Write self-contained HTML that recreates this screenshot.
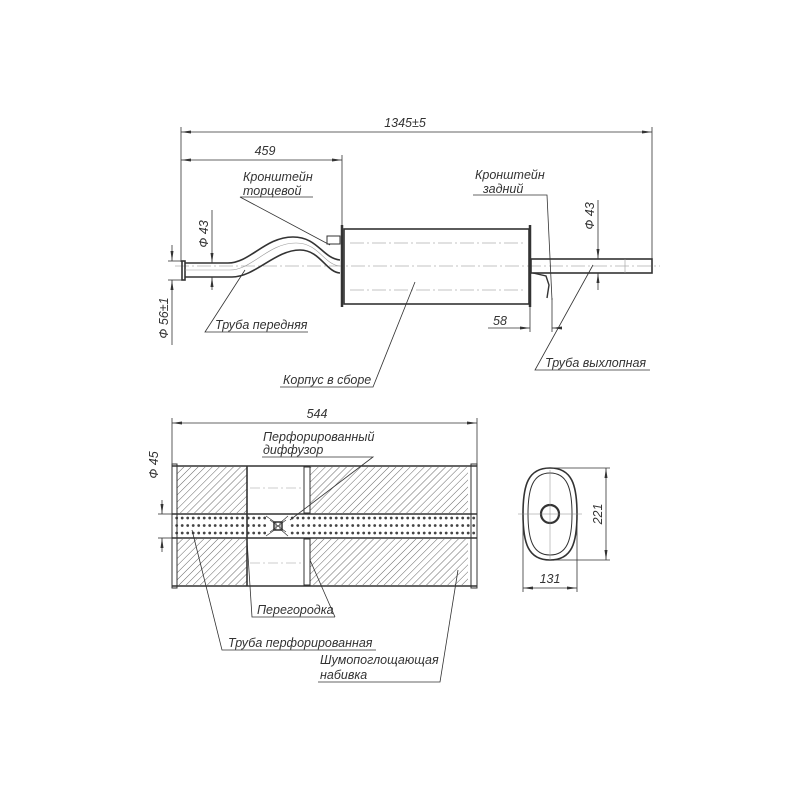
<!DOCTYPE html>
<html><head><meta charset="utf-8"><style>
html,body{margin:0;padding:0;background:#fff}
svg{display:block}
text{font-family:"Liberation Sans",sans-serif;font-style:italic;font-size:12.5px;fill:#333}
</style></head><body>
<svg width="800" height="800" viewBox="0 0 800 800" xmlns="http://www.w3.org/2000/svg">
<defs>
<pattern id="h" width="5" height="5" patternUnits="userSpaceOnUse" patternTransform="rotate(45)">
<line x1="0" y1="0" x2="0" y2="5" stroke="#555" stroke-width="0.9"/></pattern>
<pattern id="d" x="174" y="514" width="5.5" height="7.5" patternUnits="userSpaceOnUse">
<circle cx="2.7" cy="4" r="1.4" fill="#444"/></pattern>
<marker id="a" markerWidth="10" markerHeight="6" refX="10" refY="3" orient="auto-start-reverse" markerUnits="userSpaceOnUse">
<path d="M0,1.5 L10,3 L0,4.5 z" fill="#333"/></marker>
</defs>
<g stroke="#333" fill="none" stroke-width="0.8">
<line x1="181" y1="132" x2="652" y2="132" marker-start="url(#a)" marker-end="url(#a)"/>
<line x1="181" y1="160" x2="342" y2="160" marker-start="url(#a)" marker-end="url(#a)"/>
<line x1="181" y1="127" x2="181" y2="262"/>
<line x1="342" y1="155" x2="342" y2="228"/>
<line x1="652" y1="127" x2="652" y2="259"/>
<line x1="175" y1="266" x2="660" y2="266" stroke="#888" stroke-width="0.6" stroke-dasharray="14,3,2,3"/>
<line x1="350" y1="243" x2="525" y2="243" stroke="#888" stroke-width="0.6" stroke-dasharray="14,3,2,3"/>
<line x1="350" y1="290" x2="525" y2="290" stroke="#888" stroke-width="0.6" stroke-dasharray="14,3,2,3"/>
<g stroke-width="1.6">
<rect x="182" y="261" width="3" height="19"/>
<path d="M185,263 L228,263 C250,263 265,237 293,237 C318,237 322,258 340,260"/>
<path d="M185,277 L232,277 C255,277 275,250 300,250 C320,250 326,272 340,273"/>
<rect x="327" y="236" width="13" height="8" stroke-width="1"/>
<rect x="344" y="229" width="185" height="75"/>
<line x1="342" y1="225" x2="342" y2="307" stroke-width="2.5"/>
<line x1="530" y1="225" x2="530" y2="307" stroke-width="2.5"/>
<rect x="531" y="259" width="121" height="14"/>
<path d="M533,273 L546,276 L549,285 L547,298" stroke-width="1.4"/>
</g>
<path d="M185,270 L230,270 C252,270 268,243 296,243 C319,243 324,265 340,266" stroke="#999" stroke-width="0.6"/>
<line x1="625" y1="259" x2="625" y2="273" stroke="#999" stroke-width="0.6"/>
<line x1="212" y1="210" x2="212" y2="263" marker-end="url(#a)"/>
<line x1="212" y1="290" x2="212" y2="277" marker-end="url(#a)"/>
<line x1="172" y1="245" x2="172" y2="261" marker-end="url(#a)"/>
<line x1="172" y1="345" x2="172" y2="280" marker-end="url(#a)"/>
<line x1="168" y1="261" x2="182" y2="261"/><line x1="168" y1="280" x2="182" y2="280"/>
<line x1="598" y1="200" x2="598" y2="259" marker-end="url(#a)"/>
<line x1="598" y1="290" x2="598" y2="273" marker-end="url(#a)"/>
<line x1="488" y1="328" x2="530" y2="328" marker-end="url(#a)"/>
<line x1="560" y1="328" x2="552" y2="328" marker-end="url(#a)"/>
<line x1="530" y1="305" x2="530" y2="332"/>
<line x1="552" y1="298" x2="552" y2="332"/>
<path d="M313,197 L240,197 L330,245"/>
<path d="M546,195 L473,195 L547,195 L552,300"/>
<path d="M308,332 L205,332 L245,270"/>
<path d="M373,387 L280,387 L373,387 L415,282"/>
<path d="M650,370 L535,370 L593,265"/>
<line x1="172" y1="423" x2="477" y2="423" marker-start="url(#a)" marker-end="url(#a)"/>
<line x1="172" y1="418" x2="172" y2="466"/><line x1="477" y1="418" x2="477" y2="466"/>
<line x1="162" y1="500" x2="162" y2="514" marker-end="url(#a)"/>
<line x1="162" y1="552" x2="162" y2="538" marker-end="url(#a)"/>
<line x1="158" y1="514" x2="172" y2="514"/><line x1="158" y1="538" x2="172" y2="538"/>
<rect x="177" y="467" width="70" height="46" fill="url(#h)" stroke="none"/>
<rect x="177" y="539" width="70" height="46" fill="url(#h)" stroke="none"/>
<rect x="310" y="467" width="158" height="46" fill="url(#h)" stroke="none"/>
<rect x="310" y="539" width="158" height="46" fill="url(#h)" stroke="none"/>
<rect x="172" y="514" width="305" height="24" fill="url(#d)"/>
<g stroke-width="1.6">
<line x1="172" y1="466" x2="477" y2="466"/>
<line x1="172" y1="586" x2="477" y2="586"/>
<line x1="247" y1="466" x2="247" y2="586"/>
<rect x="304" y="467" width="6" height="46" stroke-width="1"/>
<rect x="304" y="539" width="6" height="46" stroke-width="1"/>
<rect x="172" y="464" width="5" height="124" stroke-width="1"/>
<rect x="471" y="464" width="6" height="124" stroke-width="1"/>
<line x1="172" y1="514" x2="477" y2="514"/>
<line x1="172" y1="538" x2="477" y2="538"/>
</g>
<line x1="250" y1="488" x2="303" y2="488" stroke="#999" stroke-dasharray="10,3,2,3" stroke-width="0.6"/>
<line x1="250" y1="563" x2="303" y2="563" stroke="#999" stroke-dasharray="10,3,2,3" stroke-width="0.6"/>
<rect x="266" y="515" width="22" height="22" fill="#fff" stroke="none"/>
<path d="M266,516 L276,523 L276,529 L266,536 M288,516 L280,523 L280,529 L288,536 M270,520 L286,532 M270,532 L286,520" stroke-width="0.7"/>
<rect x="274" y="522" width="8" height="8" stroke-width="1.5"/>
<path d="M262,457 L373,457 L290,520"/>
<path d="M335,617 L252,617 L247,540 M335,617 L310,560"/>
<path d="M376,650 L222,650 L192,530"/>
<path d="M318,682 L440,682 L458,570"/>
<path d="M550,468 C572,468 577,485 577,514 C577,543 572,560 550,560 C528,560 523,543 523,514 C523,485 528,468 550,468 Z" stroke-width="1.6"/>
<path d="M550,473 C567,473 572,488 572,514 C572,540 567,555 550,555 C533,555 528,540 528,514 C528,488 533,473 550,473 Z" stroke-width="1"/>
<circle cx="550" cy="514" r="9" stroke-width="2.2"/>
<line x1="518" y1="514" x2="582" y2="514" stroke="#888" stroke-width="0.5"/>
<line x1="550" y1="470" x2="550" y2="560" stroke="#888" stroke-width="0.5"/>
<line x1="553" y1="468" x2="610" y2="468"/><line x1="553" y1="560" x2="610" y2="560"/>
<line x1="606" y1="468" x2="606" y2="560" marker-start="url(#a)" marker-end="url(#a)"/>
<line x1="523" y1="518" x2="523" y2="592"/><line x1="577" y1="518" x2="577" y2="592"/>
<line x1="523" y1="588" x2="577" y2="588" marker-start="url(#a)" marker-end="url(#a)"/>
</g>
<text x="405" y="127" text-anchor="middle">1345±5</text>
<text x="265" y="155" text-anchor="middle">459</text>
<text x="243" y="181">Кронштейн</text>
<text x="243" y="195">торцевой</text>
<text x="475" y="179">Кронштейн</text>
<text x="483" y="193">задний</text>
<text x="215" y="329">Труба передняя</text>
<text x="283" y="384">Корпус в сборе</text>
<text x="545" y="367">Труба выхлопная</text>
<text x="493" y="325">58</text>
<text transform="translate(208,234) rotate(-90)" text-anchor="middle">Ф 43</text>
<text transform="translate(168,318) rotate(-90)" text-anchor="middle">Ф 56±1</text>
<text transform="translate(594,216) rotate(-90)" text-anchor="middle">Ф 43</text>
<text x="317" y="418" text-anchor="middle">544</text>
<text x="263" y="441">Перфорированный</text>
<text x="263" y="454">диффузор</text>
<text x="257" y="614">Перегородка</text>
<text x="228" y="647">Труба перфорированная</text>
<text x="320" y="664">Шумопоглощающая</text>
<text x="320" y="679">набивка</text>
<text transform="translate(158,465) rotate(-90)" text-anchor="middle">Ф 45</text>
<text transform="translate(602,514) rotate(-90)" text-anchor="middle">221</text>
<text x="550" y="583" text-anchor="middle">131</text>
</svg>
</body></html>
